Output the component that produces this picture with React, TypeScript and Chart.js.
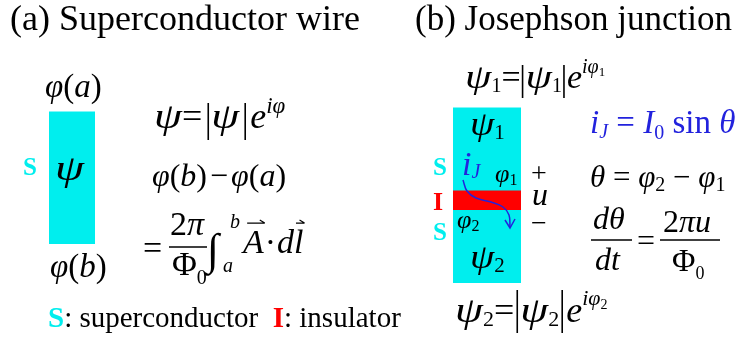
import { useEffect, useRef } from "react";
import { Chart, registerables } from "chart.js";

Chart.register(...registerables);

const FONT = '"Liberation Serif", "Times New Roman", serif';
const CYAN = "#00eeee";
const RED = "#ff0000";
const BLUE = "#2222dd";
const BLACK = "#000000";

// Rectangles: [xLeft, xRight, yTop, yBottom]
const wireRect = [49, 95, 112, 244];
const junctionRect = [453, 521, 108, 283];
const insulatorRect = [453, 521, 191, 210];

// Tunnelling-current arrow path
const arrowX = [463, 467, 476, 491, 503, 509, 510];
const arrowY = [180, 191, 198, 202, 207, 215, 227];
const headX = [505, 510, 515];
const headY = [220, 228, 219];

// Fraction bars: [x0, x1, y]
const fractionBars = [
  [169, 207, 247],
  [591, 632, 240],
  [660, 720, 240],
];

type Run = {
  t?: string;
  s?: number;
  i?: boolean;
  b?: boolean;
  dy?: number;
  dx?: number;
  c?: string;
  sx?: number;
  bar?: [number, number];
  vec?: boolean;
};
type Label = { x: number; y: number; s: number; c?: string; runs: Run[] };

const L = (x: number, y: number, s: number, runs: Run[], c?: string): Label => ({ x, y, s, runs, c });
const it = (t: string, extra: Partial<Run> = {}): Run => ({ t, i: true, ...extra });
const up = (t: string, extra: Partial<Run> = {}): Run => ({ t, ...extra });
const psi = (extra: Partial<Run> = {}): Run => ({ t: "ψ", i: true, sx: 1.25, ...extra });

const leftLabels: Label[] = [
  L(10, 30, 36, [up("(a) Superconductor wire")]),
  L(45, 97, 33, [it("φ"), up("("), it("a"), up(")")]),
  L(154, 128, 36, [
    psi(), up("="), { bar: [-25, 12], dx: 3 }, psi(), { bar: [-25, 12], dx: 3 },
    it("e", { dx: 2 }), it("iφ", { s: 23, dy: -15 }),
  ]),
  L(23, 175, 25, [up("S", { b: true })], CYAN),
  L(55, 180, 36, [psi({ sx: 1.3 })]),
  L(152, 186, 32, [it("φ"), up("("), it("b"), up(")"), up("−", { dx: 3 }), it("φ", { dx: 3 }), up("("), it("a"), up(")")]),
  L(143, 259, 34, [up("=")]),
  L(170, 235, 34, [up("2"), it("π")]),
  L(172, 275, 34, [up("Φ"), up("0", { s: 20, dy: 9 })]),
  L(207, 264, 44, [up("∫")]),
  L(230, 228, 20, [it("b")]),
  L(223, 272, 20, [it("a")]),
  L(243, 253, 34, [it("A", { vec: true }), up("·", { dx: 1 }), it("d", { dx: 1 }), it("l", { vec: true })]),
  L(50, 277, 33, [it("φ"), up("("), it("b"), up(")")]),
  L(48, 327, 29, [up("S", { b: true, c: CYAN }), up(": superconductor  "), up("I", { b: true, c: RED }), up(": insulator")]),
];

const rightLabels: Label[] = [
  L(415, 30, 35, [up("(b) Josephson junction")]),
  L(465, 88, 34, [
    psi(), up("1", { s: 20, dy: 4 }), up("="), { bar: [-23, 10], dx: -1 }, psi(), up("1", { s: 20, dy: 4 }),
    { bar: [-23, 10], dx: -1 }, it("e", { dx: 0 }), it("iφ", { s: 20, dy: -15 }), up("1", { s: 13, dy: -12 }),
  ]),
  L(470, 135, 34, [psi({ sx: 1.15 }), up("1", { s: 21, dy: 4 })]),
  L(590, 133, 33, [it("i"), it("J", { s: 20, dy: 5 }), up(" = "), it("I"), up("0", { s: 20, dy: 6 }), up(" sin "), it("θ")], BLUE),
  L(433, 175, 25, [up("S", { b: true })], CYAN),
  L(462, 175, 34, [it("i"), it("J", { s: 20, dy: 3 })], BLUE),
  L(495, 182, 26, [it("φ"), up("1", { s: 16, dy: 3 })]),
  L(531, 182, 28, [up("+")]),
  L(590, 187, 31, [it("θ"), up(" = "), it("φ"), up("2", { s: 20, dy: 4 }), up(" − "), it("φ"), up("1", { s: 20, dy: 4 })]),
  L(433, 210, 26, [up("I", { b: true })], RED),
  L(532, 205, 32, [it("u")]),
  L(433, 240, 25, [up("S", { b: true })], CYAN),
  L(457, 228, 26, [it("φ"), up("2", { s: 16, dy: 3 })]),
  L(531, 232, 28, [up("−")]),
  L(470, 268, 34, [psi({ sx: 1.15 }), up("2", { s: 21, dy: 4 })]),
  L(593, 229, 32, [it("d"), it("θ")]),
  L(595, 270, 32, [it("dt")]),
  L(637, 251, 32, [up("=")]),
  L(663, 232, 32, [up("2"), it("π"), it("u")]),
  L(672, 271, 32, [up("Φ"), up("0", { s: 18, dy: 8 })]),
  L(455, 322, 36, [
    psi(), up("2", { s: 22, dy: 4 }), up("="), { bar: [-32, 11] }, psi(), up("2", { s: 22, dy: 4 }),
    { bar: [-32, 11] }, it("e", { dx: 1 }), it("iφ", { s: 22, dy: -17 }), up("2", { s: 14, dy: -13 }),
  ]),
];

function drawLabel(ctx: CanvasRenderingContext2D, lab: Label, xs: any, ys: any) {
  let cx = xs.getPixelForValue(lab.x);
  const by = ys.getPixelForValue(lab.y);
  for (const r of lab.runs) {
    cx += r.dx ?? 0;
    const s = r.s ?? lab.s;
    const col = r.c ?? lab.c ?? BLACK;
    if (r.bar) {
      ctx.strokeStyle = col;
      ctx.lineWidth = 1.6;
      ctx.beginPath();
      ctx.moveTo(cx + 3, by + r.bar[0]);
      ctx.lineTo(cx + 3, by + r.bar[1]);
      ctx.stroke();
      cx += 6;
      continue;
    }
    ctx.font = `${r.i ? "italic " : ""}${r.b ? "bold " : ""}${s}px ${FONT}`;
    ctx.fillStyle = col;
    const t = r.t ?? "";
    const sx = r.sx ?? 1;
    ctx.save();
    ctx.translate(cx, by + (r.dy ?? 0));
    ctx.scale(sx, 1);
    ctx.fillText(t, 0, 0);
    ctx.restore();
    const w = ctx.measureText(t).width * sx;
    if (r.vec) {
      const ay = by - s * 0.88;
      const x0 = cx + w * 0.2;
      const x1 = cx + w + 1;
      ctx.strokeStyle = col;
      ctx.lineWidth = 1.2;
      ctx.beginPath();
      ctx.moveTo(x0, ay);
      ctx.lineTo(x1, ay);
      ctx.moveTo(x1, ay);
      ctx.lineTo(x1 - 5, ay - 3);
      ctx.stroke();
    }
    cx += w;
  }
}

const formulaPlugin = {
  id: "formulae",
  afterDatasetsDraw(chart: any) {
    const ctx = chart.ctx as CanvasRenderingContext2D;
    const xs = chart.scales.x;
    const ys = chart.scales.y;
    ctx.save();
    ctx.textBaseline = "alphabetic";
    ctx.textAlign = "left";
    for (const lab of [...leftLabels, ...rightLabels]) drawLabel(ctx, lab, xs, ys);
    ctx.restore();
  },
};

function rectDataset(r: number[], color: string) {
  return {
    type: "line" as const,
    data: [
      { x: r[0], y: r[2] },
      { x: r[1], y: r[2] },
    ],
    fill: { value: r[3] },
    backgroundColor: color,
    borderColor: color,
    borderWidth: 1,
    pointRadius: 0,
    tension: 0,
  };
}

export default function App() {
  const ref = useRef<HTMLCanvasElement | null>(null);
  useEffect(() => {
    if (!ref.current) return;
    const datasets: any[] = [
      {
        type: "line",
        data: headX.map((x, k) => ({ x, y: headY[k] })),
        borderColor: BLUE,
        borderWidth: 1.5,
        pointRadius: 0,
        fill: false,
        tension: 0,
      },
      {
        type: "line",
        data: arrowX.map((x, k) => ({ x, y: arrowY[k] })),
        borderColor: BLUE,
        borderWidth: 1.5,
        pointRadius: 0,
        fill: false,
        tension: 0.4,
      },
      ...fractionBars.map((f) => ({
        type: "line",
        data: [
          { x: f[0], y: f[2] },
          { x: f[1], y: f[2] },
        ],
        borderColor: BLACK,
        borderWidth: 1.5,
        pointRadius: 0,
        fill: false,
      })),
      rectDataset(insulatorRect, RED),
      rectDataset(junctionRect, CYAN),
      rectDataset(wireRect, CYAN),
    ];
    const chart = new Chart(ref.current, {
      type: "line",
      data: { datasets },
      options: {
        animation: false,
        responsive: false,
        maintainAspectRatio: false,
        layout: { padding: 0 },
        plugins: { legend: { display: false }, tooltip: { enabled: false } },
        scales: {
          x: { type: "linear", min: 0, max: 740, display: false },
          y: { type: "linear", min: 0, max: 338, reverse: true, display: false },
        },
      },
      plugins: [formulaPlugin],
    });
    return () => chart.destroy();
  }, []);
  return (
    <div style={{ position: "fixed", left: 0, top: 0, width: 740, height: 338, background: "#fff" }}>
      <canvas ref={ref} width={740} height={338} style={{ display: "block" }} />
    </div>
  );
}
